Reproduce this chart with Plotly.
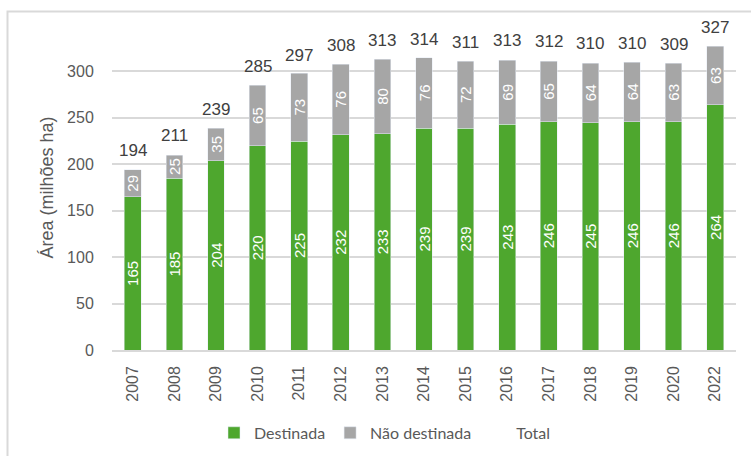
import plotly.graph_objects as go

years = ["2007", "2008", "2009", "2010", "2011", "2012", "2013", "2014",
         "2015", "2016", "2017", "2018", "2019", "2020", "2022"]
destinada = [165, 185, 204, 220, 225, 232, 233, 239, 239, 243, 246, 245, 246, 246, 264]
nao_destinada = [29, 25, 35, 65, 73, 76, 80, 76, 72, 69, 65, 64, 64, 63, 63]
total = [194, 211, 239, 285, 297, 308, 313, 314, 311, 313, 312, 310, 310, 309, 327]
y_ticks = [0, 50, 100, 150, 200, 250, 300]

GREEN = "#4EA72E"
GRAY = "#A6A6A6"
TXT = "#595959"
ARIAL = "Liberation Sans, Arial, sans-serif"

xpos = list(range(len(years)))

fig = go.Figure()
fig.add_trace(go.Bar(
    x=xpos, y=destinada, name="Destinada", marker_color=GREEN,
    text=[str(v) for v in destinada], textposition="inside", textangle=-90,
    insidetextanchor="middle", constraintext="none",
    textfont=dict(color="white", size=15, family=ARIAL),
))
fig.add_trace(go.Bar(
    x=xpos, y=nao_destinada, name="Não destinada", marker_color=GRAY,
    text=[str(v) for v in nao_destinada], textposition="inside", textangle=-90,
    insidetextanchor="middle", constraintext="none",
    textfont=dict(color="white", size=15, family=ARIAL),
))
fig.add_trace(go.Scatter(
    x=xpos, y=total, name="Total", mode="markers",
    marker=dict(color="rgba(0,0,0,0)", size=1), hoverinfo="skip",
))

for xi, t in zip(xpos, total):
    fig.add_annotation(x=xi, y=t, xref="x", yref="y", text=str(t), showarrow=False,
                       yshift=19, yanchor="middle",
                       font=dict(size=17, color="#404040", family=ARIAL))

W, H = 751, 456
L, R, T, B = 112, 15, 24.5, 106
pw, ph = W - L - R, H - T - B
fig.add_shape(type="rect", xref="paper", yref="paper",
              x0=(7.5 - L) / pw, x1=(W + 20 - L) / pw,
              y0=-(H + 20 - T - ph) / ph, y1=(H - 11 - B) / ph,
              line=dict(color="#D9D9D9", width=2))

fig.update_layout(
    width=W, height=H,
    margin=dict(l=L, r=R, t=T, b=B, autoexpand=False),
    barmode="stack", bargap=0.6,
    plot_bgcolor="white", paper_bgcolor="white",
    font=dict(family=ARIAL, color=TXT, size=16),
    showlegend=True,
    legend=dict(orientation="h", traceorder="normal",
                x=(385 - L) / pw, xanchor="center", y=-(433 - T - ph) / ph, yanchor="middle",
                font=dict(family="Lato, sans-serif", size=16, color=TXT)),
)
fig.update_xaxes(range=[-0.5, len(years) - 0.5], tickvals=xpos, ticktext=years,
                 tickangle=-90, showgrid=False,
                 showline=True, linecolor="#D9D9D9", linewidth=1.5,
                 ticks="outside", ticklen=8, tickcolor="rgba(0,0,0,0)",
                 tickfont=dict(size=16, color=TXT, family=ARIAL))
fig.update_yaxes(range=[0, 350], tickvals=y_ticks, showgrid=True,
                 gridcolor="#D9D9D9", gridwidth=1.5, zeroline=False,
                 ticks="outside", ticklen=14, tickcolor="rgba(0,0,0,0)",
                 tickfont=dict(size=16, color=TXT, family=ARIAL),
                 title=dict(text="Área (milhões ha)", standoff=8,
                            font=dict(size=18, color=TXT, family=ARIAL)))

fig.write_html("out.html")
